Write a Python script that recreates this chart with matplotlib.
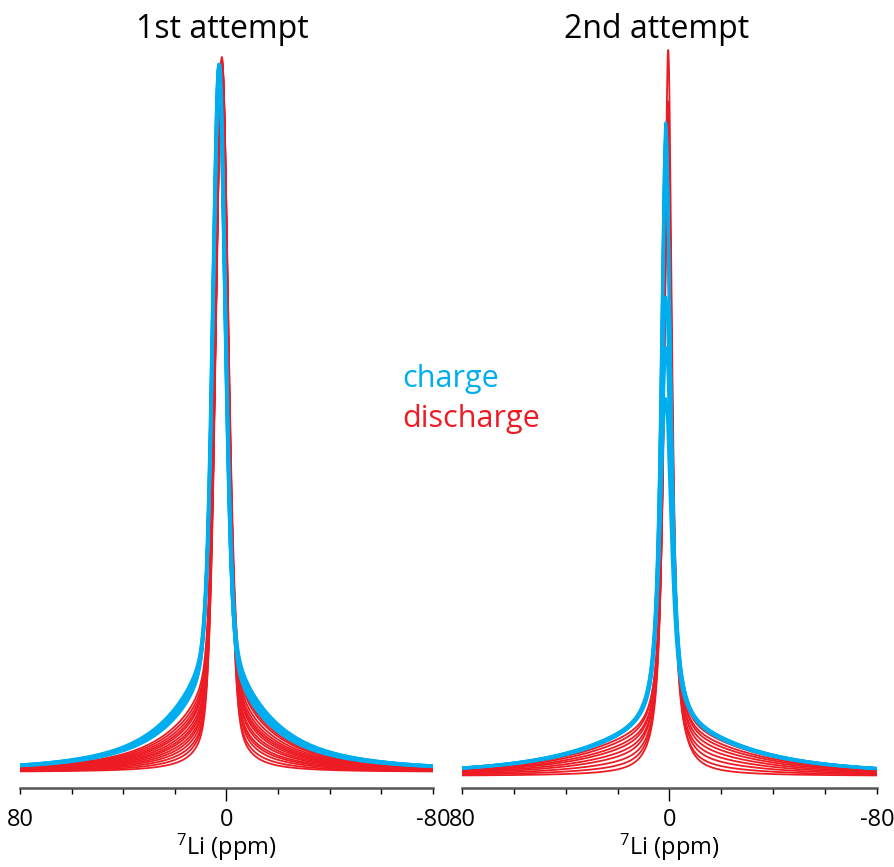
import numpy as np
import matplotlib.pyplot as plt

plt.rcParams['font.family'] = ['Open Sans', 'DejaVu Sans']
plt.rcParams['mathtext.default'] = 'regular'

blue = '#00aeef'
red = '#ed1c24'

# 7Li spectra, one entry per trace: shift (ppm), peak height, broad-component height
a1_charge_shift = [2.9, 2.8, 3.0, 2.7, 2.9, 3.1, 2.8, 2.6, 3.0, 2.9]
a1_charge_height = [0.99, 0.985, 0.99, 0.98, 0.99, 0.985, 0.98, 0.99, 0.985, 0.975]
a1_charge_broad = [0.105, 0.11, 0.113, 0.116, 0.118, 0.12, 0.122, 0.125, 0.108, 0.128]

a1_discharge_shift = [1.8, 1.9, 1.7, 1.8, 2.0, 1.8, 1.9, 1.7, 1.8, 2.0, 1.9, 1.8, 1.7, 1.9]
a1_discharge_height = [1.0, 0.995, 0.99, 0.995, 0.99, 0.985, 0.99, 0.995, 0.985, 0.99, 0.98, 0.985, 0.99, 0.98]
a1_discharge_broad = [0.004, 0.012, 0.02, 0.027, 0.033, 0.04, 0.046, 0.052, 0.058, 0.064, 0.07, 0.077, 0.085, 0.092]

a2_charge_shift = [1.4, 1.3, 1.5, 1.4, 1.2, 1.4, 1.3, 1.5]
a2_charge_height = [0.90, 0.89, 0.88, 0.87, 0.86, 0.66, 0.59, 0.52]
a2_charge_broad = [0.060, 0.062, 0.063, 0.064, 0.061, 0.065, 0.063, 0.066]
a2_charge_width = [2.1, 2.12, 2.14, 2.16, 2.18, 2.4, 2.5, 2.6]

a2_discharge_shift = [0.5, 0.7, 0.6, 0.8, 0.6, 0.7, 0.5, 0.8, 0.6]
a2_discharge_height = [1.0, 0.93, 0.92, 0.91, 0.90, 0.90, 0.89, 0.89, 0.88]
a2_discharge_broad = [0.002, 0.01, 0.018, 0.026, 0.033, 0.04, 0.046, 0.052, 0.058]


def lineshape(x, x0, height, broad, hw, eta, hw_broad):
    d = x - x0
    lor = 1 / (1 + (d / hw) ** 2)
    gau = np.exp(-np.log(2) * (d / hw) ** 2)
    return (height - broad) * (eta * lor + (1 - eta) * gau) + broad / (1 + (d / hw_broad) ** 2)


x = np.linspace(-80, 80, 3201)

fig = plt.figure(figsize=(8.95, 8.67), dpi=100)
ax1 = fig.add_axes([20 / 895, 1 - 788 / 867, 413 / 895, 748 / 867])
ax2 = fig.add_axes([462 / 895, 1 - 788 / 867, 415 / 895, 748 / 867])

for s, h, b in zip(a1_discharge_shift, a1_discharge_height, a1_discharge_broad):
    ax1.plot(x, lineshape(x, s, h, b, 2.9, 0.4, 22), color=red, lw=1.3)
for s, h, b in zip(a1_charge_shift, a1_charge_height, a1_charge_broad):
    ax1.plot(x, lineshape(x, s, h, b, 2.9, 0.4, 22), color=blue, lw=2.0)

for s, h, b in zip(a2_discharge_shift, a2_discharge_height, a2_discharge_broad):
    ax2.plot(x, lineshape(x, s, h, b, 1.8, 0.9, 35), color=red, lw=1.3)
for s, h, b, w in zip(a2_charge_shift, a2_charge_height, a2_charge_broad, a2_charge_width):
    ax2.plot(x, lineshape(x, s, h, b, w, 0.85, 35), color=blue, lw=2.0)

ax1.set_ylim(-16 / 715, 732 / 715)
ax2.set_ylim(-12 / 726, 736 / 726)

for ax in (ax1, ax2):
    ax.set_xlim(80, -80)
    for side in ('top', 'left', 'right'):
        ax.spines[side].set_visible(False)
    ax.spines['bottom'].set_color('#555555')
    ax.spines['bottom'].set_linewidth(1.8)
    ax.set_yticks([])
    ax.set_xticks([80, 0, -80])
    ax.set_xticks(np.arange(-80, 81, 20), minor=True)
    ax.set_xticklabels(['80', '0', '-80'])
    ax.tick_params(axis='x', which='major', length=4.5, width=1.0, pad=10, labelsize=17)
    ax.tick_params(axis='x', which='minor', length=4.5, width=1.0)
    ax.xaxis.get_major_ticks()[1].tick1line.set_markersize(9)
    ax.set_xlabel(r'$^{7}$Li (ppm)', fontsize=17, labelpad=0)

fig.text(222 / 895, 1 - 30 / 867, '1st attempt', fontsize=23, ha='center', va='center')
fig.text(657 / 895, 1 - 30 / 867, '2nd attempt', fontsize=23, ha='center', va='center')
fig.text(402 / 895, 1 - 387 / 867, 'charge', fontsize=22, color=blue, ha='left', va='baseline')
fig.text(402 / 895, 1 - 427 / 867, 'discharge', fontsize=22, color=red, ha='left', va='baseline')

fig.savefig('out.png', dpi=100)
